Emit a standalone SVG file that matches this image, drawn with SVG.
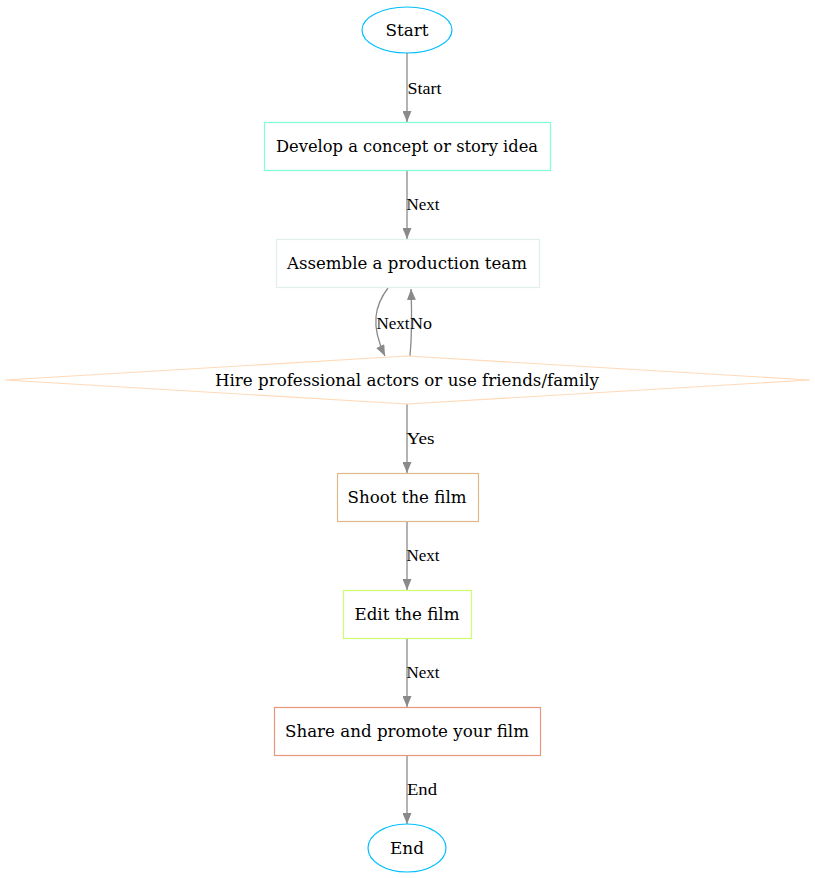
<svg xmlns="http://www.w3.org/2000/svg" width="815" height="878" viewBox="0 0 815 878">
<defs>
<marker id="ah" markerWidth="11" markerHeight="9" refX="11" refY="4.5" orient="auto" markerUnits="userSpaceOnUse">
<path d="M0,0 L11,4.5 L0,9 Z" fill="#8a8a8a"/>
</marker>
<style>
text{font-family:"DejaVu Serif","Liberation Serif",serif;font-size:14px;fill:#000}
.n text{text-anchor:middle;font-size:16px}
.n rect,.n ellipse,.n polygon{fill:#fff;stroke-width:1.2}
.e path{fill:none;stroke:#8a8a8a;stroke-width:1.3;marker-end:url(#ah)}
.e text{text-anchor:start;font-family:"Liberation Serif","DejaVu Serif",serif;font-size:16px}
</style>
</defs>
<rect width="815" height="878" fill="#fff"/>
<g class="e" id="edges">
<path d="M407,53 V122"/><text x="407.5" y="94" textLength="34" lengthAdjust="spacingAndGlyphs">Start</text>
<path d="M407,170 V239"/><text x="406.5" y="210" textLength="33" lengthAdjust="spacingAndGlyphs">Next</text>
<path d="M388,288 C375,305 370,325 385,356"/><text x="376.5" y="329" textLength="33" lengthAdjust="spacingAndGlyphs">Next</text>
<path d="M410,356 C412,335 412,315 411,289"/><text x="410" y="329" textLength="22" lengthAdjust="spacingAndGlyphs">No</text>
<path d="M407,404 V473"/><text x="406.5" y="444" textLength="28" lengthAdjust="spacingAndGlyphs">Yes</text>
<path d="M407,521 V590"/><text x="406.5" y="561" textLength="33" lengthAdjust="spacingAndGlyphs">Next</text>
<path d="M407,638 V707"/><text x="406.5" y="678" textLength="33" lengthAdjust="spacingAndGlyphs">Next</text>
<path d="M407,755 V824"/><text x="407" y="795" textLength="30" lengthAdjust="spacingAndGlyphs">End</text>
</g>
<g class="n" id="start"><ellipse cx="407" cy="30" rx="45" ry="23" stroke="#00bfff"/><text x="407" y="36" textLength="43" lengthAdjust="spacingAndGlyphs">Start</text></g>
<g class="n" id="concept"><rect x="264.5" y="122.5" width="286" height="48" stroke="#7fffd4"/><text x="407" y="152" textLength="262" lengthAdjust="spacingAndGlyphs">Develop a concept or story idea</text></g>
<g class="n" id="team"><rect x="276.5" y="239.5" width="263" height="48" stroke="#e0eeee"/><text x="407" y="269" textLength="240" lengthAdjust="spacingAndGlyphs">Assemble a production team</text></g>
<g class="n" id="actors"><polygon points="407,356 810,380 407,404 5,380" stroke="#ffdab9"/><text x="407" y="386" textLength="384" lengthAdjust="spacingAndGlyphs">Hire professional actors or use friends/family</text></g>
<g class="n" id="shoot"><rect x="337.5" y="473.5" width="141" height="48" stroke="#deb887"/><text x="407" y="503" textLength="119" lengthAdjust="spacingAndGlyphs">Shoot the film</text></g>
<g class="n" id="edit"><rect x="343.5" y="590.5" width="128" height="48" stroke="#caff70"/><text x="407" y="620" textLength="105" lengthAdjust="spacingAndGlyphs">Edit the film</text></g>
<g class="n" id="share"><rect x="274.5" y="707.5" width="266" height="48" stroke="#e9967a"/><text x="407" y="737" textLength="244" lengthAdjust="spacingAndGlyphs">Share and promote your film</text></g>
<g class="n" id="end"><ellipse cx="407" cy="848" rx="39" ry="24" stroke="#00bfff"/><text x="407" y="854" textLength="34" lengthAdjust="spacingAndGlyphs">End</text></g>
</svg>
